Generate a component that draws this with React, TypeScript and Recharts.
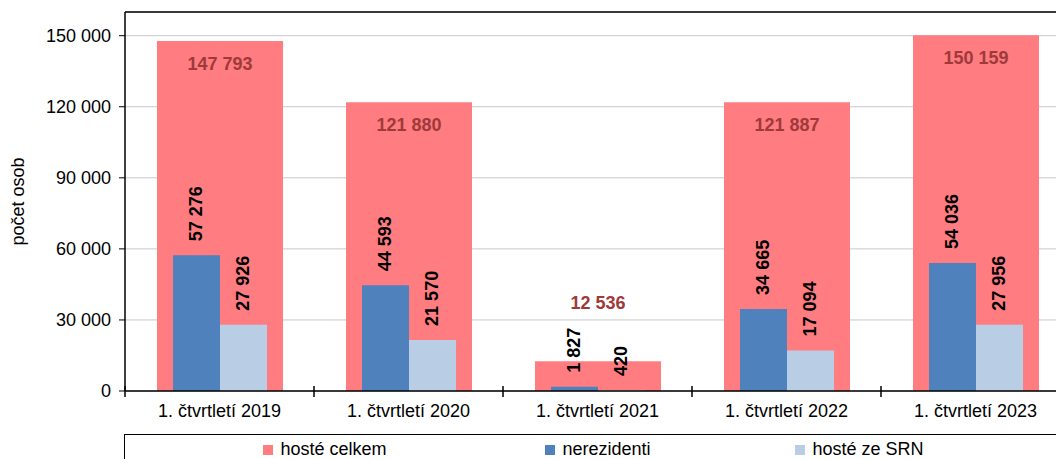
import { BarChart, Bar, XAxis, YAxis, CartesianGrid, LabelList, Label, ReferenceLine } from "recharts";

const categories = [
  "1. čtvrtletí 2019",
  "1. čtvrtletí 2020",
  "1. čtvrtletí 2021",
  "1. čtvrtletí 2022",
  "1. čtvrtletí 2023",
];
const hosteCelkem = [147793, 121880, 12536, 121887, 150159];
const nerezidenti = [57276, 44593, 1827, 34665, 54036];
const hosteSrn = [27926, 21570, 420, 17094, 27956];
const yTicks = [0, 30000, 60000, 90000, 120000, 150000];

const data = categories.map((name, i) => ({
  name,
  celkem: hosteCelkem[i],
  nerez: nerezidenti[i],
  srn: hosteSrn[i],
}));

const W = 1080;
const H = 459;
const MARGIN = { top: 12, right: 10, bottom: 38, left: 5 };
const Y_AXIS_W = 120;
const FONT = "'Liberation Sans', Arial, sans-serif";
const PINK = "#FF7C80";
const BLUE = "#4F81BD";
const LIGHT = "#B9CDE5";

const fmt = (v: number) => String(v).replace(/\B(?=(\d{3})+(?!\d))/g, " ");

const halfBand = (W - MARGIN.left - Y_AXIS_W - MARGIN.right) / categories.length / 2;

const TotalLabel = (props: any) => {
  const { x, y, width, height, value } = props;
  // small bars get their label above the bar, like the original
  const cy = height < 60 ? y - 58 : y + 23;
  return (
    <text
      x={x + width / 2}
      y={cy}
      textAnchor="middle"
      dominantBaseline="central"
      fontFamily={FONT}
      fontSize={18}
      fontWeight="bold"
      fill="#9E3A3A"
    >
      {fmt(value)}
    </text>
  );
};

const VertLabel = (props: any) => {
  const { x, y, width, value } = props;
  const cx = x + width / 2;
  const cy = y - 14;
  return (
    <text
      x={cx}
      y={cy}
      transform={`rotate(-90 ${cx} ${cy})`}
      textAnchor="start"
      dominantBaseline="central"
      fontFamily={FONT}
      fontSize={18}
      fontWeight="bold"
      fill="#000"
    >
      {fmt(value)}
    </text>
  );
};

const XTick = (props: any) => {
  const { x, y, payload, index } = props;
  return (
    <g>
      <line x1={x - halfBand} x2={x - halfBand} y1={y - 5} y2={y + 6} stroke="#000" strokeWidth={1.5} />
      {index === categories.length - 1 && (
        <line x1={x + halfBand} x2={x + halfBand} y1={y - 5} y2={y + 6} stroke="#000" strokeWidth={1.5} />
      )}
      <text x={x} y={y + 26} textAnchor="middle" fontFamily={FONT} fontSize={18} fill="#000">
        {payload.value}
      </text>
    </g>
  );
};

const legendItems = [
  { label: "hosté celkem", color: PINK, left: 263 },
  { label: "nerezidenti", color: BLUE, left: 545 },
  { label: "hosté ze SRN", color: LIGHT, left: 795 },
];

export default function App() {
  return (
    <div
      style={{
        position: "fixed",
        top: 0,
        left: 0,
        width: 1056,
        height: 459,
        overflow: "hidden",
        background: "#fff",
        fontFamily: FONT,
      }}
    >
      <BarChart width={W} height={H} data={data} margin={MARGIN} barGap={0}>
        <CartesianGrid vertical={false} stroke="#C8C8C8" />
        <XAxis xAxisId="sub" dataKey="name" hide height={0} />
        <XAxis
          xAxisId="tot"
          dataKey="name"
          axisLine={{ stroke: "#000", strokeWidth: 1.5 }}
          tickLine={false}
          tickSize={0}
          tickMargin={0}
          height={30}
          interval={0}
          tick={<XTick />}
        />
        <YAxis
          domain={[0, 160000]}
          ticks={yTicks}
          tickFormatter={fmt}
          width={Y_AXIS_W}
          axisLine={{ stroke: "#000", strokeWidth: 1.5 }}
          tickLine={{ stroke: "#000" }}
          tickSize={6}
          tickMargin={8}
          tick={{ fill: "#000", fontSize: 18, fontFamily: FONT }}
        >
          <Label
            content={(p: any) => {
              const vb = p.viewBox;
              const lx = vb.x + 13;
              const ly = vb.y + vb.height / 2;
              return (
                <text
                  x={lx}
                  y={ly}
                  transform={`rotate(-90 ${lx} ${ly})`}
                  textAnchor="middle"
                  dominantBaseline="central"
                  fontFamily={FONT}
                  fontSize={18}
                  fill="#000"
                >
                  počet osob
                </text>
              );
            }}
          />
        </YAxis>
        <ReferenceLine xAxisId="tot" y={160000} stroke="#000" strokeWidth={1.5} />
        <Bar xAxisId="tot" dataKey="celkem" fill={PINK} barSize={126} isAnimationActive={false}>
          <LabelList dataKey="celkem" content={<TotalLabel />} />
        </Bar>
        <Bar xAxisId="sub" dataKey="nerez" fill={BLUE} barSize={47} isAnimationActive={false}>
          <LabelList dataKey="nerez" content={<VertLabel />} />
        </Bar>
        <Bar xAxisId="sub" dataKey="srn" fill={LIGHT} barSize={47} isAnimationActive={false}>
          <LabelList dataKey="srn" content={<VertLabel />} />
        </Bar>
      </BarChart>
      <div
        style={{
          position: "absolute",
          top: 434,
          left: 124,
          width: 1000,
          height: 40,
          borderTop: "1.5px solid #000",
          borderLeft: "1.5px solid #000",
          boxSizing: "border-box",
        }}
      >
        {legendItems.map((it) => (
          <div
            key={it.label}
            style={{
              position: "absolute",
              left: it.left - 125.5,
              top: 4,
              display: "flex",
              alignItems: "center",
              fontSize: 18,
              color: "#000",
              whiteSpace: "nowrap",
            }}
          >
            <span style={{ width: 10, height: 10, background: it.color, display: "inline-block", marginRight: 8 }} />
            {it.label}
          </div>
        ))}
      </div>
    </div>
  );
}
